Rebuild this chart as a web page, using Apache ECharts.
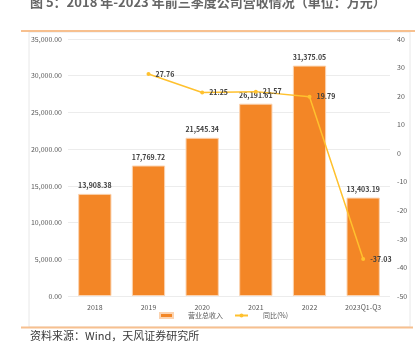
<!DOCTYPE html>
<html>
	<head>
		<meta charset="utf-8">
		<title>营收情况</title>
		<style>
html, body {
	width: 100%;
	height: 100%;
	margin: 0;
	background: #fff;
}
#box1 {
	width: 415px;
	height: 352px;
}
		</style>
	</head>
	<body>
		<div id="box1"></div>
	</body>
	<script src="https://cdn.jsdelivr.net/npm/echarts@6/dist/echarts.min.js"></script>
	<script type="text/javascript">
var categories = ['2018', '2019', '2020', '2021', '2022', '2023Q1-Q3'];
var revenue = [13908.38, 17769.72, 21545.34, 26191.61, 31375.05, 13403.19];
var yoy = [null, 27.76, 21.25, 21.57, 19.79, -37.03];
var leftTicks = { min: 0, max: 35000, interval: 5000 };
var rightTicks = { min: -50, max: 40, interval: 10 };

var fontFam = '"Noto Sans CJK SC", "Noto Sans", sans-serif';

function money(v) {
	return Number(v).toLocaleString('en-US', { minimumFractionDigits: 2, maximumFractionDigits: 2 });
}

var myChart = echarts.init(document.getElementById('box1'));

var option = {
	backgroundColor: '#fff',
	animation: false,
	textStyle: { fontFamily: fontFam },
	graphic: [
		{
			type: 'text', left: 30, top: -4,
			style: { text: '图 5：2018 年-2023 年前三季度公司营收情况（单位：万元）', fill: '#666', font: 'bold 13px ' + fontFam }
		},
		{
			type: 'rect', shape: { x: 29, y: 32, width: 381, height: 295 },
			style: { fill: 'none', stroke: '#e8e8e8', lineWidth: 1 }, z: -1
		},
		{ type: 'line', shape: { x1: 21, y1: 31, x2: 415, y2: 31 }, style: { stroke: '#f7c08f', lineWidth: 2 } },
		{ type: 'line', shape: { x1: 21, y1: 327.5, x2: 413, y2: 327.5 }, style: { stroke: '#f7c08f', lineWidth: 2 } },
		{
			type: 'text', left: 30, top: 330,
			style: { text: '资料来源：Wind，天风证券研究所', fill: '#3a3a3a', font: '11px ' + fontFam }
		}
	],
	legend: {
		bottom: 28,
		left: 154,
		itemWidth: 13,
		itemHeight: 5,
		itemGap: 11,
		textStyle: { fontSize: 7, color: '#595959', padding: [0, 0, 0, 10] },
		data: [
			{ name: '营业总收入', icon: 'rect' },
			{ name: '同比(%)' }
		]
	},
	grid: { left: 68, right: 25, top: 39, bottom: 56 },
	xAxis: {
		type: 'category',
		data: categories,
		axisLine: { show: false },
		axisTick: { show: false },
		axisLabel: { fontSize: 7, color: '#595959', margin: 8 }
	},
	yAxis: [
		{
			type: 'value',
			min: leftTicks.min, max: leftTicks.max, interval: leftTicks.interval,
			axisLabel: { fontSize: 7, color: '#595959', formatter: money, margin: 6 },
			splitLine: { lineStyle: { color: '#ececec' } }
		},
		{
			type: 'value',
			min: rightTicks.min, max: rightTicks.max, interval: rightTicks.interval,
			axisLabel: { fontSize: 7, color: '#595959', margin: 7 },
			splitLine: { show: false }
		}
	],
	series: [
		{
			name: '营业总收入',
			type: 'bar',
			data: revenue,
			barWidth: '62%',
			itemStyle: { color: '#f38626', borderColor: '#fbd3b0', borderWidth: 1 },
			label: {
				show: true, position: 'top', fontSize: 7, color: '#404040', fontWeight: 'bold',
				formatter: function (p) { return money(p.value); }
			}
		},
		{
			name: '同比(%)',
			type: 'line',
			yAxisIndex: 1,
			data: yoy,
			symbol: 'circle',
			symbolSize: 4,
			lineStyle: { color: '#ffc12e', width: 1.5 },
			itemStyle: { color: '#ffc12e' },
			label: {
				show: true, position: 'right', fontSize: 7, color: '#404040', fontWeight: 'bold',
				formatter: function (p) { return p.value.toFixed(2); }
			}
		}
	]
};

myChart.setOption(option);
	</script>
</html>
